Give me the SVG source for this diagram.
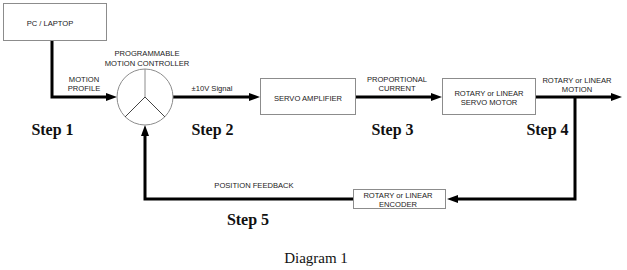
<svg xmlns="http://www.w3.org/2000/svg" width="627" height="270" viewBox="0 0 627 270">
  <style>
    .box { fill: #ffffff; stroke: #8c8c8c; stroke-width: 1; }
    .lbl { font-family: "Liberation Sans", Arial, sans-serif; font-size: 7.6px; fill: #1a1a1a; text-anchor: middle; }
    .step { font-family: "Liberation Serif", "Times New Roman", serif; font-size: 16px; font-weight: bold; fill: #111; text-anchor: middle; }
    .cap { font-family: "Liberation Serif", "Times New Roman", serif; font-size: 15px; fill: #111; text-anchor: middle; }
    .wire { fill: none; stroke: #000; stroke-width: 3; }
  </style>
  <defs>
    <marker id="arrow" markerUnits="userSpaceOnUse" markerWidth="12" markerHeight="9" refX="5" refY="4" orient="auto">
      <path d="M0,0 L11,4 L0,8 z" fill="#000"/>
    </marker>
  </defs>
  <rect width="627" height="270" fill="#ffffff"/>

  <!-- connectors -->
  <g id="connectors">
    <path class="wire" d="M52,41 V97 H111" marker-end="url(#arrow)"/>
    <path class="wire" d="M173,97 H254" marker-end="url(#arrow)"/>
    <path class="wire" d="M356,97 H436" marker-end="url(#arrow)"/>
    <path class="wire" d="M536,97 H616" marker-end="url(#arrow)"/>
    <path class="wire" d="M575,97 V199 H453" marker-end="url(#arrow)"/>
    <path class="wire" d="M353,199 H145 V131" marker-end="url(#arrow)"/>
    <text class="lbl" x="84" y="82">MOTION</text>
    <text class="lbl" x="84" y="91">PROFILE</text>
    <text class="lbl" x="212" y="91">±10V Signal</text>
    <text class="lbl" x="397" y="82">PROPORTIONAL</text>
    <text class="lbl" x="397" y="91">CURRENT</text>
    <text class="lbl" x="577" y="83">ROTARY or LINEAR</text>
    <text class="lbl" x="577" y="92">MOTION</text>
    <text class="lbl" x="254" y="188">POSITION FEEDBACK</text>
  </g>

  <!-- PC / laptop -->
  <g id="pc">
    <rect class="box" x="3.5" y="3.5" width="103" height="37"/>
    <text class="lbl" x="50" y="26">PC / LAPTOP</text>
  </g>

  <!-- motion controller -->
  <g id="controller">
    <circle cx="145" cy="97" r="28" fill="#fff" stroke="#8c8c8c" stroke-width="1"/>
    <line x1="145" y1="69" x2="145" y2="97" stroke="#8c8c8c" stroke-width="1"/>
    <path d="M125,117 L145,97 L165,117" fill="none" stroke="#444" stroke-width="1"/>
    <text class="lbl" x="147" y="56">PROGRAMMABLE</text>
    <text class="lbl" x="147" y="66">MOTION CONTROLLER</text>
  </g>

  <!-- servo amplifier -->
  <g id="amplifier">
    <rect class="box" x="260.5" y="78.5" width="95" height="36"/>
    <text class="lbl" x="308" y="101">SERVO AMPLIFIER</text>
  </g>

  <!-- servo motor -->
  <g id="motor">
    <rect class="box" x="442.5" y="78.5" width="93" height="36"/>
    <text class="lbl" x="489" y="96">ROTARY or LINEAR</text>
    <text class="lbl" x="489" y="105">SERVO MOTOR</text>
  </g>

  <!-- encoder -->
  <g id="encoder">
    <rect class="box" x="353.5" y="189.5" width="92" height="19"/>
    <text class="lbl" x="398" y="198">ROTARY or LINEAR</text>
    <text class="lbl" x="398" y="207">ENCODER</text>
  </g>

  <!-- step captions -->
  <g id="steps">
    <text class="step" x="52.5" y="135">Step 1</text>
    <text class="step" x="212.5" y="135">Step 2</text>
    <text class="step" x="392.5" y="135">Step 3</text>
    <text class="step" x="547.5" y="135">Step 4</text>
    <text class="step" x="248" y="225">Step 5</text>
    <text class="cap" x="316" y="263">Diagram 1</text>
  </g>
</svg>
